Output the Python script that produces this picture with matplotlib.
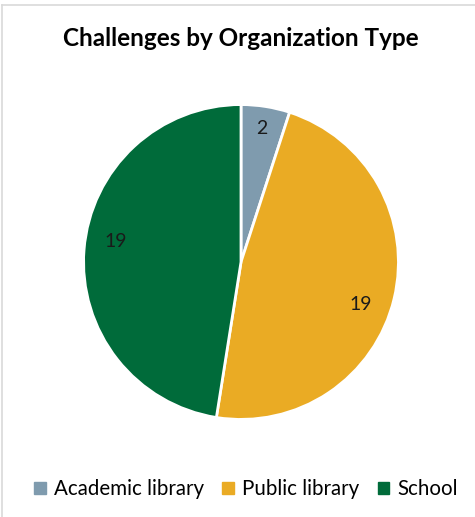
import numpy as np
import matplotlib.pyplot as plt
from matplotlib.patches import Rectangle
from matplotlib.lines import Line2D

labels = ['Academic library', 'Public library', 'School']
counts = [2, 19, 19]
colors = ['#7F9BAE', '#EAAB24', '#006B3A']

plt.rcParams['font.family'] = ['Lato', 'DejaVu Sans']

fig = plt.figure(figsize=(4.75, 5.17), dpi=100)

# chart frame (only top and left edges visible in the crop)
fig.add_artist(Line2D([2 / 475, 2 / 475], [0, 1 - 5 / 517], color='#D9D9D9', lw=1.2))
fig.add_artist(Line2D([2 / 475, 1], [1 - 5 / 517, 1 - 5 / 517], color='#D9D9D9', lw=1.2))

ax = fig.add_axes([(241 - 159) / 475, (517 - 262 - 159) / 517, 318 / 475, 318 / 517])
wedges, _ = ax.pie(counts, colors=colors, startangle=90, counterclock=False,
                   wedgeprops=dict(edgecolor='white', linewidth=2))
ax.set_xlim(-1.01, 1.01)
ax.set_ylim(-1.01, 1.01)
ax.set_aspect('equal')

# data labels placed like Excel's best fit (distance, angle shift in degrees)
dists = [0.86, 0.805, 0.805]
shifts = [0, -6, -5]
for w, c, d, s in zip(wedges, counts, dists, shifts):
    ang = np.deg2rad((w.theta1 + w.theta2) / 2 + s)
    ax.text(d * np.cos(ang), d * np.sin(ang), str(c), ha='center', va='center',
            fontsize=14, color='#1a1a1a')

fig.text(241 / 475, 1 - 38 / 517, 'Challenges by Organization Type', ha='center', va='center',
         fontsize=17.5, fontweight='bold', color='black')

handles = [Rectangle((0, 0), 1, 1, color=c) for c in colors]
fig.legend(handles, labels, loc='center', bbox_to_anchor=(246 / 475, 1 - 489 / 517), ncol=3,
           frameon=False, fontsize=14.8, handlelength=0.55, handleheight=0.55,
           handletextpad=0.4, columnspacing=0.9)

fig.savefig('out.png', dpi=100)
